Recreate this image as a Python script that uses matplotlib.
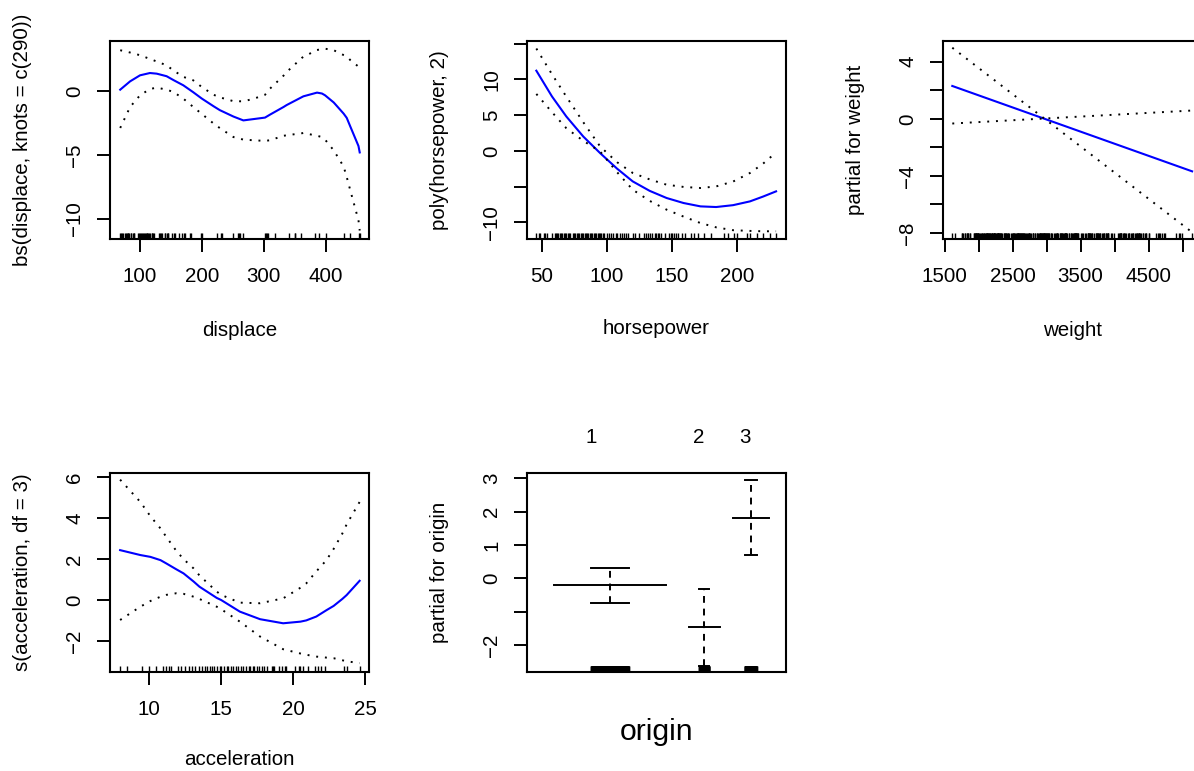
import matplotlib
matplotlib.use("Agg")
import matplotlib.pyplot as plt
import numpy as np

plt.rcParams['font.family'] = ['Liberation Sans', 'DejaVu Sans']

# displace term: bs(displace, knots = c(290))
disp_x = [68, 84, 100, 116, 127, 143, 154, 170, 186, 200, 219, 229, 251, 267, 283, 302, 310,
          332, 337, 362, 364, 386, 394, 399, 413, 429, 434, 440, 453, 455]
disp_fit = [0.1, 0.75, 1.22, 1.4, 1.35, 1.15, 0.85, 0.44, -0.1, -0.6, -1.2, -1.5, -2.0, -2.3,
            -2.2, -2.08, -1.85, -1.25, -1.1, -0.47, -0.42, -0.13, -0.2, -0.34, -0.9, -1.77,
            -2.1, -2.8, -4.3, -4.8]
disp_up = [3.18, 3.0, 2.79, 2.5, 2.3, 2.0, 1.6, 1.1, 0.83, 0.3, -0.3, -0.5, -0.8, -0.81,
           -0.62, -0.3, 0.18, 1.2, 1.48, 2.6, 2.66, 3.2, 3.26, 3.3, 3.18, 2.8, 2.7, 2.4, 1.9, 1.69]
disp_lo = [-2.89, -1.25, -0.34, 0.15, 0.26, 0.1, -0.08, -0.6, -1.25, -1.8, -2.55, -2.9, -3.6,
           -3.8, -3.85, -3.9, -3.85, -3.5, -3.46, -3.3, -3.28, -3.5, -3.6, -3.8, -4.64, -5.9,
           -6.72, -7.8, -10.1, -10.9]
disp_rug = [68, 70, 71, 72, 76, 78, 79, 80, 81, 83, 85, 86, 89, 90, 91, 97, 98, 100, 101, 104,
            105, 107, 108, 110, 111, 112, 113, 114, 116, 119, 120, 121, 122, 130, 133, 134, 135,
            140, 141, 144, 145, 146, 151, 155, 156, 163, 168, 171, 173, 181, 183, 198, 200, 225,
            231, 232, 250, 258, 260, 262, 267, 302, 304, 305, 307, 318, 340, 350, 351, 360, 383,
            390, 400, 429, 440, 454, 455]

# horsepower term: poly(horsepower, 2)
hp_x = [46, 58, 69, 82, 95, 108, 120, 133, 146, 159, 172, 184, 197, 210, 220, 230]
hp_fit = [11.2, 7.6, 4.8, 2.0, -0.33, -2.5, -4.28, -5.6, -6.6, -7.3, -7.77, -7.86, -7.6,
          -7.07, -6.4, -5.67]
hp_up = [14.3, 10.7, 7.58, 4.0, 0.6, -1.6, -3.1, -4.0, -4.74, -5.05, -5.2, -4.98, -4.3,
         -3.1, -1.8, -0.23]
hp_lo = [7.95, 5.4, 3.16, 1.4, -0.1, -3.0, -5.44, -7.0, -8.23, -9.2, -10.1, -10.7, -11.1,
         -11.2, -11.25, -11.25]
hp_rug = [46, 48, 49, 52, 53, 54, 58, 60, 61, 62, 63, 64, 65, 66, 67, 68, 69, 70, 71, 72, 74,
          75, 76, 77, 78, 79, 80, 81, 82, 83, 84, 85, 86, 87, 88, 89, 90, 91, 92, 93, 94, 95,
          96, 97, 98, 100, 102, 103, 105, 107, 108, 110, 112, 113, 115, 116, 120, 122, 125,
          129, 130, 132, 133, 135, 137, 138, 139, 140, 142, 145, 148, 149, 150, 152, 153, 155,
          158, 160, 165, 167, 170, 175, 180, 190, 193, 198, 200, 208, 210, 215, 220, 225, 230]

# weight term: linear
wt_x = [1613, 5140]
wt_fit = [2.3, -3.68]
wt_a = [4.98, -7.95]
wt_b = [-0.33, 0.58]
wt_rug = [1613, 1649, 1755, 1760, 1773, 1795, 1800, 1825, 1834, 1845, 1850, 1867, 1875, 1925,
          1937, 1940, 1950, 1955, 1965, 1968, 1975, 1980, 1985, 1990, 1995, 2000, 2020, 2035,
          2045, 2050, 2070, 2075, 2085, 2100, 2108, 2110, 2120, 2125, 2130, 2135, 2145, 2155,
          2160, 2164, 2171, 2188, 2190, 2200, 2202, 2215, 2220, 2226, 2228, 2230, 2234, 2245,
          2254, 2264, 2265, 2278, 2279, 2288, 2290, 2295, 2300, 2310, 2320, 2330, 2335, 2350,
          2370, 2380, 2390, 2395, 2400, 2405, 2420, 2430, 2434, 2450, 2470, 2490, 2500, 2510,
          2515, 2525, 2542, 2556, 2560, 2565, 2575, 2582, 2585, 2595, 2600, 2605, 2615, 2620,
          2625, 2634, 2640, 2648, 2660, 2670, 2672, 2678, 2700, 2711, 2720, 2735, 2740, 2745,
          2755, 2774, 2795, 2800, 2807, 2830, 2833, 2855, 2865, 2868, 2890, 2900, 2905, 2910,
          2914, 2925, 2930, 2933, 2945, 2950, 2957, 2962, 2965, 2972, 2979, 2984, 2990, 3003,
          3012, 3015, 3021, 3035, 3039, 3060, 3070, 3085, 3102, 3121, 3139, 3150, 3155, 3160,
          3169, 3190, 3193, 3205, 3210, 3230, 3233, 3245, 3250, 3264, 3265, 3270, 3278, 3282,
          3288, 3302, 3329, 3336, 3353, 3365, 3380, 3381, 3399, 3410, 3415, 3420, 3425, 3430,
          3432, 3439, 3445, 3449, 3459, 3465, 3504, 3525, 3535, 3563, 3574, 3605, 3609, 3613,
          3620, 3630, 3632, 3645, 3651, 3664, 3672, 3693, 3725, 3730, 3735, 3745, 3755, 3761,
          3777, 3781, 3785, 3820, 3830, 3840, 3850, 3870, 3880, 3892, 3897, 3900, 3907, 3940,
          3962, 3988, 4054, 4060, 4080, 4082, 4096, 4098, 4100, 4129, 4135, 4141, 4154, 4165,
          4190, 4209, 4215, 4237, 4257, 4274, 4278, 4294, 4312, 4325, 4335, 4341, 4354, 4360,
          4363, 4380, 4385, 4422, 4425, 4440, 4456, 4464, 4499, 4502, 4615, 4633, 4654, 4668,
          4699, 4732, 4746, 4906, 4951, 4955, 4997, 5140]

# acceleration term: s(acceleration, df = 3)
acc_x = [8.0, 9.4, 10.1, 10.8, 11.2, 11.9, 12.4, 13.1, 13.5, 14.7, 15.0, 16.3, 17.7, 19.3,
         20.5, 20.9, 21.6, 22.3, 22.8, 23.4, 23.7, 24.6]
acc_fit = [2.44, 2.2, 2.11, 1.95, 1.79, 1.5, 1.3, 0.9, 0.65, 0.1, 0.0, -0.57, -0.94, -1.14,
           -1.06, -1.0, -0.81, -0.5, -0.29, 0.05, 0.24, 0.94]
acc_up = [5.89, 4.8, 4.1, 3.5, 3.09, 2.4, 2.0, 1.54, 1.2, 0.41, 0.25, -0.13, -0.16, 0.08,
          0.6, 0.81, 1.4, 1.95, 2.5, 3.25, 3.7, 4.8]
acc_lo = [-0.98, -0.33, -0.05, 0.16, 0.25, 0.33, 0.3, 0.16, 0.05, -0.33, -0.45, -1.06, -1.79,
          -2.41, -2.62, -2.68, -2.77, -2.82, -2.85, -2.95, -3.0, -3.09]
acc_rug = [8.0, 8.5, 9.5, 10.0, 10.5, 11.0, 11.2, 11.4, 11.5, 12.0, 12.2, 12.5, 12.8, 13.0,
           13.2, 13.5, 13.7, 13.9, 14.0, 14.2, 14.4, 14.5, 14.7, 14.9, 15.0, 15.2, 15.4, 15.5,
           15.7, 15.8, 16.0, 16.2, 16.4, 16.5, 16.7, 16.9, 17.0, 17.2, 17.3, 17.5, 17.6, 17.8,
           18.0, 18.2, 18.5, 18.6, 18.7, 19.0, 19.2, 19.4, 19.5, 20.1, 20.4, 20.5, 20.7, 21.0,
           21.5, 21.7, 21.9, 22.2, 23.5, 23.7, 24.6]

# origin term (factor)
origin_levels = ["1", "2", "3"]
origin_counts = [245, 68, 79]
origin_fit = [-0.2, -1.45, 1.81]
origin_up = [0.32, -0.32, 2.94]
origin_lo = [-0.73, -2.63, 0.70]

W, H = 1194, 771
fig = plt.figure(figsize=(W / 100, H / 100), dpi=100)

def box(left, top, w=259, h=198):
    return fig.add_axes([left / W, 1 - (top + h) / H, w / W, h / H])

FS = 14.8
dots = (0, (1, 3.5))

def style(ax):
    for s in ax.spines.values():
        s.set_linewidth(1.5)
    ax.tick_params(direction='out', length=9.5, width=1.4, labelsize=FS, pad=11)
    ax.tick_params(axis='y', labelrotation=90, pad=9)
    for lab in ax.get_yticklabels():
        lab.set_va('center')

def labels(ax, xl, yl, xoff=91, xsize=FS):
    ax.set_xlabel(xl, fontsize=xsize, va='center')
    ax.xaxis.set_label_coords(0.5, -xoff / ax.bbox.height)
    ax.set_ylabel(yl, fontsize=FS, va='center')
    ax.yaxis.set_label_coords(-87 / ax.bbox.width, 0.5)

def rug(ax, vals):
    ax.vlines(vals, 0, 0.03, transform=ax.get_xaxis_transform(), color='black', lw=1.0)

def term(ax, x, fit, up, lo, r):
    ax.plot(x, fit, color='blue', lw=1.5)
    ax.plot(x, up, color='black', lw=1.4, ls=dots)
    ax.plot(x, lo, color='black', lw=1.4, ls=dots)
    rug(ax, r)

# panel 1
ax = box(110, 41)
term(ax, disp_x, disp_fit, disp_up, disp_lo, disp_rug)
ax.set_xlim(51.5, 470)
ax.set_ylim(-11.56, 3.9)
ax.set_xticks([100, 200, 300, 400])
ax.set_yticks([-10, -5, 0])
style(ax)
labels(ax, "displace", "bs(displace, knots = c(290))")

# panel 2
ax = box(526.7, 41)
term(ax, hp_x, hp_fit, hp_up, hp_lo, hp_rug)
ax.set_xlim(38.6, 237.4)
ax.set_ylim(-12.33, 15.35)
ax.set_xticks([50, 100, 150, 200])
ax.set_yticks([-10, -5, 0, 5, 10, 15])
ax.set_yticklabels(["\u221210", "", "0", "5", "10", ""])
style(ax)
labels(ax, "horsepower", "poly(horsepower, 2)", xoff=89)

# panel 3 (right edge falls outside the picture)
ax = box(942.7, 41)
term(ax, wt_x, wt_fit, wt_a, wt_b, wt_rug)
ax.set_xlim(1472, 5281)
ax.set_ylim(-8.42, 5.45)
ax.set_xticks(np.arange(1500, 5001, 500))
ax.set_xticklabels(["1500", "", "2500", "", "3500", "", "4500", ""])
ax.set_yticks(np.arange(-8, 5, 2))
ax.set_yticklabels(["\u22128", "", "\u22124", "", "0", "", "4"])
style(ax)
labels(ax, "weight", "partial for weight")

# panel 4
ax = box(110, 472.7, h=199)
term(ax, acc_x, acc_fit, acc_up, acc_lo, acc_rug)
ax.set_xlim(7.3, 25.25)
ax.set_ylim(-3.51, 6.23)
ax.set_xticks([10, 15, 20, 25])
ax.set_yticks([-2, 0, 2, 4, 6])
style(ax)
labels(ax, "acceleration", "s(acceleration, df = 3)", xoff=88)

# panel 5: factor term
ax = box(526.7, 472.5, h=199)
centers = [181, 386, 487]
for c, n, f, u, l, name in zip(centers, origin_counts, origin_fit, origin_up, origin_lo,
                               origin_levels):
    ax.plot([c - n / 2, c + n / 2], [f, f], color='black', lw=1.4)
    ax.plot([c, c], [l, u], color='black', lw=1.4, ls=(0, (3.5, 3)))
    for v in (u, l):
        ax.plot([c - n / 6, c + n / 6], [v, v], color='black', lw=1.4)
    rug(ax, np.linspace(c - n / 6, c + n / 6, n))
    ax.text(c - n / 6, 1 + 35 / 199, name, fontsize=FS, ha='center', va='center',
            transform=ax.get_xaxis_transform())
ax.set_xlim(0, 563)
ax.set_ylim(-2.79, 3.17)
ax.set_xticks([])
ax.set_yticks([-2, -1, 0, 1, 2, 3])
ax.set_yticklabels(["\u22122", "", "0", "1", "2", "3"])
style(ax)
labels(ax, "origin", "partial for origin", xoff=60, xsize=21.7)

fig.savefig("out.png", dpi=100)
